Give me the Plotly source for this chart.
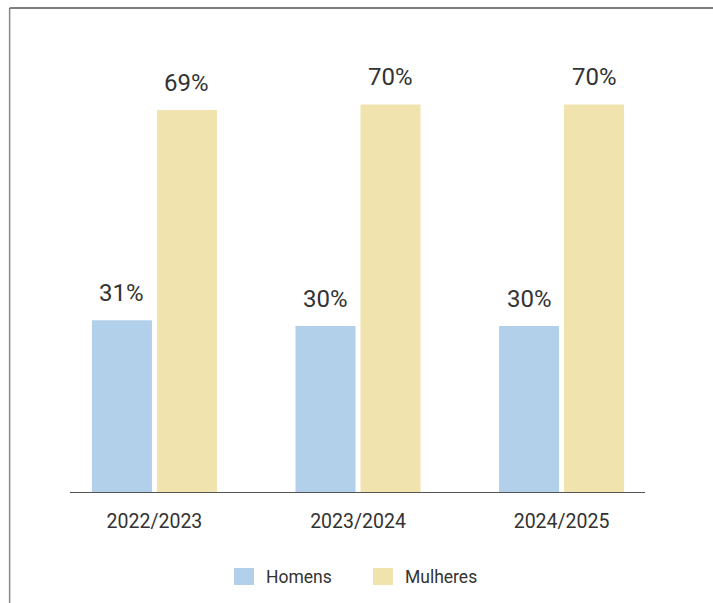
import plotly.graph_objects as go

categories = ["2022/2023", "2023/2024", "2024/2025"]
homens = [31, 30, 30]
mulheres = [69, 70, 70]
series_names = ["Homens", "Mulheres"]
colors = ["#b3d0eb", "#f0e3ad"]

fig = go.Figure()
for name, vals, col in zip(series_names, [homens, mulheres], colors):
    fig.add_trace(go.Bar(x=categories, y=vals, name=name, marker_color=col,
                         marker_line_width=0, hoverinfo="skip", showlegend=False))

annotations = []
for vals, shift in [(homens, -32.5), (mulheres, 32.5)]:
    for c, v in zip(categories, vals):
        annotations.append(dict(x=c, y=v, xref="x", yref="y", text=f"{v}%",
                                showarrow=False, yanchor="bottom", xshift=shift,
                                yshift=11, font=dict(size=24, color="#333333")))

# custom legend (plot area: x 70..645 px, y 49..492 px)
def px_x(p):
    return (p - 70) / 575.0

def px_y(p):
    return (492 - p) / 443.0

shapes = [
    dict(type="line", xref="paper", yref="paper", x0=-0.105, x1=-0.105, y0=-0.3, y1=1.0926,
         line=dict(color="#888888", width=1.5)),
    dict(type="line", xref="paper", yref="paper", x0=-0.105, x1=1.2, y0=1.0926, y1=1.0926,
         line=dict(color="#555555", width=1.5)),
]
legend_swatch_left = [234, 373]
for name, col, sx in zip(series_names, colors, legend_swatch_left):
    shapes.append(dict(type="rect", xref="paper", yref="paper",
                       x0=px_x(sx), x1=px_x(sx + 20), y0=px_y(585), y1=px_y(568),
                       fillcolor=col, line=dict(width=0)))
    annotations.append(dict(x=px_x(sx + 30), y=px_y(576.5), xref="paper", yref="paper",
                            text=name, showarrow=False, xanchor="left", yanchor="middle",
                            font=dict(size=17.5, color="#333333")))

fig.update_layout(
    width=713, height=603,
    margin=dict(l=70, r=68, t=49, b=111),
    paper_bgcolor="white", plot_bgcolor="white",
    font=dict(family="Roboto", color="#333333"),
    barmode="group", bargap=0.361, bargroupgap=0.077,
    showlegend=False,
    annotations=annotations,
    xaxis=dict(range=[-0.415, 2.41], showline=True, linecolor="#555555", linewidth=1,
               showgrid=False, zeroline=False, ticks="", tickfont=dict(size=19.5, color="#333333"),
               ticklabelstandoff=12, fixedrange=True),
    yaxis=dict(range=[0, 80], visible=False, showgrid=False, zeroline=False, fixedrange=True),
    shapes=shapes,
)

fig.write_html("out.html", config={"displayModeBar": False},
               post_script="document.body.style.margin='0';")
